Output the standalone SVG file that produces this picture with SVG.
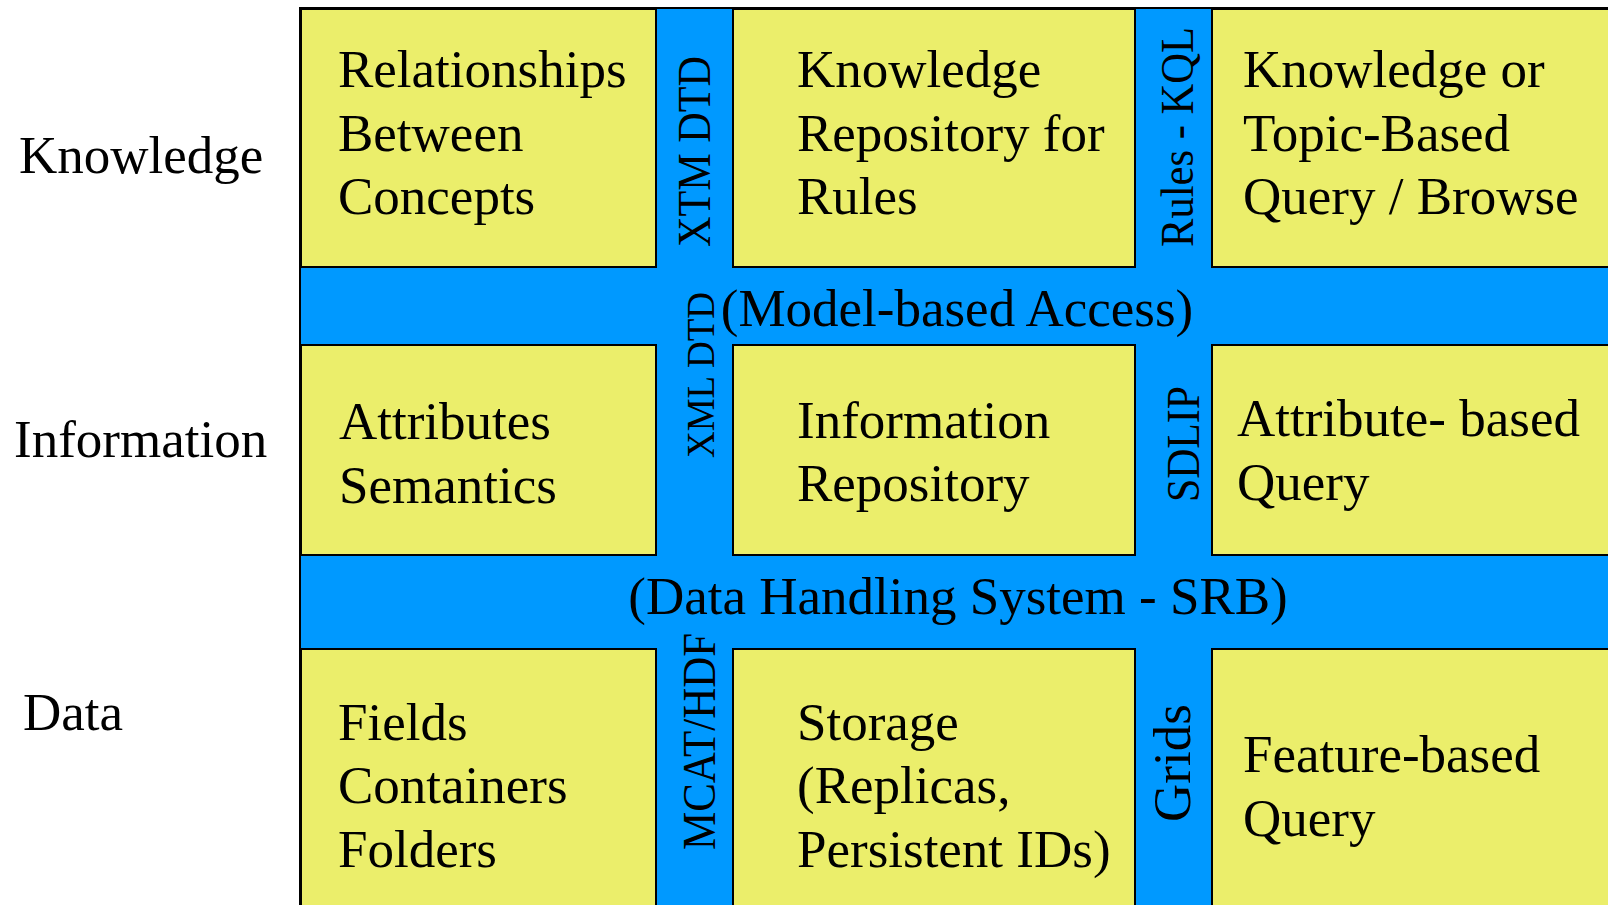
<svg xmlns="http://www.w3.org/2000/svg" width="1608" height="905" viewBox="0 0 1608 905">
  <style>
    text { font-family: "Liberation Serif", "Times New Roman", serif; fill: #000; }
    .cell { fill: #EBEE6B; stroke: #000; stroke-width: 2; }
    .band { fill: #0099FF; stroke: #000; stroke-width: 2; }
    .t { font-size: 53px; }
    .v { font-size: 46px; }
  </style>

  <rect width="1608" height="905" fill="#FFFFFF"/>

  <!-- layer names -->
  <g id="layer-labels">
    <text class="t" x="19" y="173">Knowledge</text>
    <text class="t" x="14" y="457">Information</text>
    <text class="t" x="23" y="730">Data</text>
  </g>

  <!-- blue interface bands behind the grid of cells -->
  <g id="interfaces">
    <rect class="band" x="300" y="8" width="1330" height="920"/>
    <text class="t" x="957" y="326" text-anchor="middle">(Model-based Access)</text>
    <text class="t" x="958" y="614" text-anchor="middle">(Data Handling System - SRB)</text>
    <text class="v" transform="translate(710,247) rotate(-90)" textLength="191" lengthAdjust="spacingAndGlyphs">XTM DTD</text>
    <text class="v" transform="translate(714,458) rotate(-90)" style="font-size:39px" textLength="166" lengthAdjust="spacingAndGlyphs">XML DTD</text>
    <text class="v" transform="translate(715,850) rotate(-90)" textLength="217" lengthAdjust="spacingAndGlyphs">MCAT/HDF</text>
    <text class="v" transform="translate(1193,247) rotate(-90)" textLength="220" lengthAdjust="spacingAndGlyphs">Rules - KQL</text>
    <text class="v" transform="translate(1199,502) rotate(-90)" textLength="116" lengthAdjust="spacingAndGlyphs">SDLIP</text>
    <text class="t" transform="translate(1190,822) rotate(-90)">Grids</text>
  </g>

  <!-- knowledge row -->
  <g id="relationships">
    <rect class="cell" x="301" y="9" width="355" height="258"/>
    <text class="t" x="338" y="87">Relationships</text>
    <text class="t" x="338" y="151">Between</text>
    <text class="t" x="338" y="214">Concepts</text>
  </g>
  <g id="knowledge-repository">
    <rect class="cell" x="733" y="9" width="402" height="258"/>
    <text class="t" x="797" y="87">Knowledge</text>
    <text class="t" x="797" y="151">Repository for</text>
    <text class="t" x="797" y="214">Rules</text>
  </g>
  <g id="topic-query">
    <rect class="cell" x="1212" y="9" width="420" height="258"/>
    <text class="t" x="1243" y="87">Knowledge or</text>
    <text class="t" x="1243" y="151">Topic-Based</text>
    <text class="t" x="1243" y="214">Query / Browse</text>
  </g>

  <!-- information row -->
  <g id="attributes">
    <rect class="cell" x="301" y="345" width="355" height="210"/>
    <text class="t" x="339" y="439">Attributes</text>
    <text class="t" x="339" y="503">Semantics</text>
  </g>
  <g id="information-repository">
    <rect class="cell" x="733" y="345" width="402" height="210"/>
    <text class="t" x="797" y="438">Information</text>
    <text class="t" x="797" y="501">Repository</text>
  </g>
  <g id="attribute-query">
    <rect class="cell" x="1212" y="345" width="420" height="210"/>
    <text class="t" x="1237" y="436">Attribute- based</text>
    <text class="t" x="1237" y="500">Query</text>
  </g>

  <!-- data row -->
  <g id="fields">
    <rect class="cell" x="301" y="649" width="355" height="280"/>
    <text class="t" x="338" y="740">Fields</text>
    <text class="t" x="338" y="803">Containers</text>
    <text class="t" x="338" y="867">Folders</text>
  </g>
  <g id="storage">
    <rect class="cell" x="733" y="649" width="402" height="280"/>
    <text class="t" x="797" y="740">Storage</text>
    <text class="t" x="797" y="803">(Replicas,</text>
    <text class="t" x="797" y="867">Persistent IDs)</text>
  </g>
  <g id="feature-query">
    <rect class="cell" x="1212" y="649" width="420" height="280"/>
    <text class="t" x="1243" y="772">Feature-based</text>
    <text class="t" x="1243" y="836">Query</text>
  </g>
</svg>
